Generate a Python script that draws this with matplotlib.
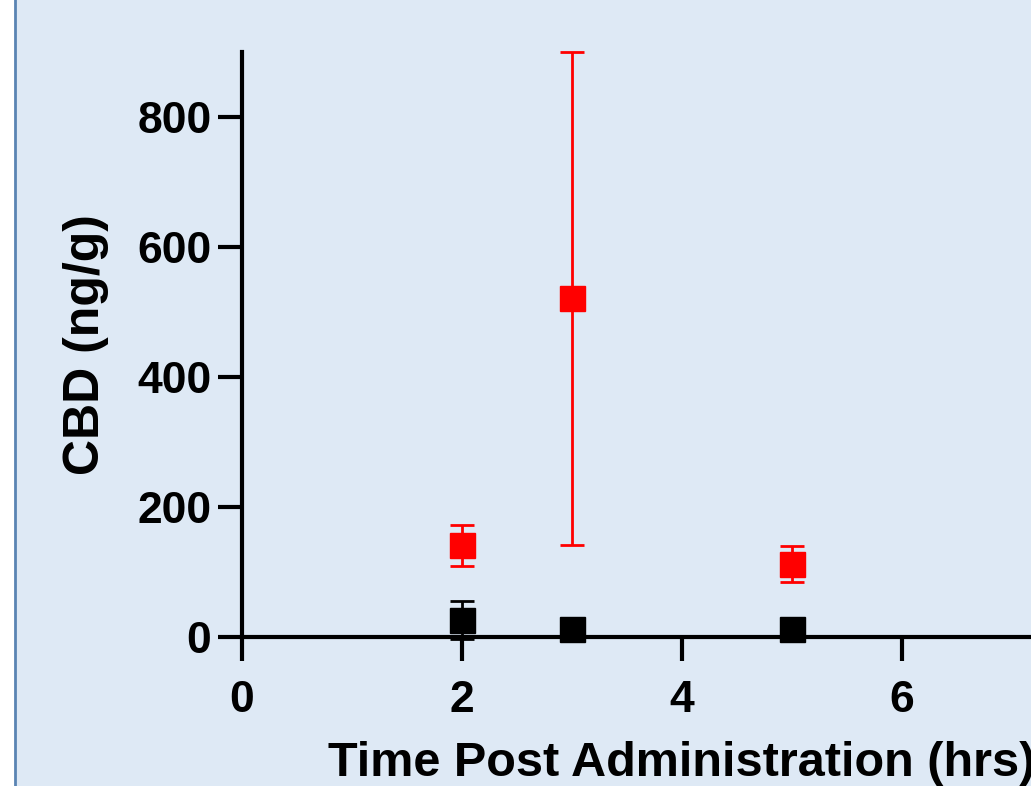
import matplotlib.pyplot as plt
from matplotlib.patches import Rectangle

# data
time_hrs = [2, 3, 5]
red_mean = [141, 521, 112]
red_err = [31, 379, 28]
black_mean = [26, 13, 13]
black_err = [29, 4, 4]

xticks = [0, 2, 4, 6, 8]
yticks = [0, 200, 400, 600, 800]

plt.rcParams['font.family'] = ['Liberation Sans', 'DejaVu Sans']
plt.rcParams['font.weight'] = 'bold'

W, H = 1031, 786
fig = plt.figure(figsize=(W / 100, H / 100), dpi=100, facecolor='#dee9f5')

# white strip + blue border on the left edge
fig.patches.append(Rectangle((0, 0), 15 / W, 1, transform=fig.transFigure,
                             facecolor='white', edgecolor='none', zorder=-10))
fig.lines.append(plt.Line2D([15 / W, 15 / W], [0, 1], transform=fig.transFigure,
                            color='#5a84b3', lw=2, zorder=-9))

ax = fig.add_axes([242 / W, 149 / H, 880 / W, 585 / H])
ax.set_facecolor('none')

ax.errorbar(time_hrs, black_mean, yerr=black_err, fmt='s', color='black',
            ms=18, elinewidth=2, capsize=8.5, capthick=2, clip_on=False, zorder=3)
ax.errorbar(time_hrs, red_mean, yerr=red_err, fmt='s', color='#ff0000',
            ms=18, elinewidth=2, capsize=8.5, capthick=2, clip_on=False, zorder=4)

ax.set_xlim(0, 8)
ax.set_ylim(0, 900)
ax.set_xticks(xticks)
ax.set_yticks(yticks)

for s in ['top', 'right']:
    ax.spines[s].set_visible(False)
for s in ['left', 'bottom']:
    ax.spines[s].set_linewidth(3)
ax.spines['bottom'].set_zorder(2)

ax.tick_params(width=3, length=17, labelsize=32, pad=5)
ax.tick_params(axis='x', pad=14)
for lab in ax.get_xticklabels() + ax.get_yticklabels():
    lab.set_fontweight('bold')

ax.set_xlabel('Time Post Administration (hrs)', fontsize=35, fontweight='bold', labelpad=14)
ax.set_ylabel('CBD (ng/g)', fontsize=36, fontweight='bold', labelpad=20)

fig.savefig('out.png', dpi=100, facecolor=fig.get_facecolor())
